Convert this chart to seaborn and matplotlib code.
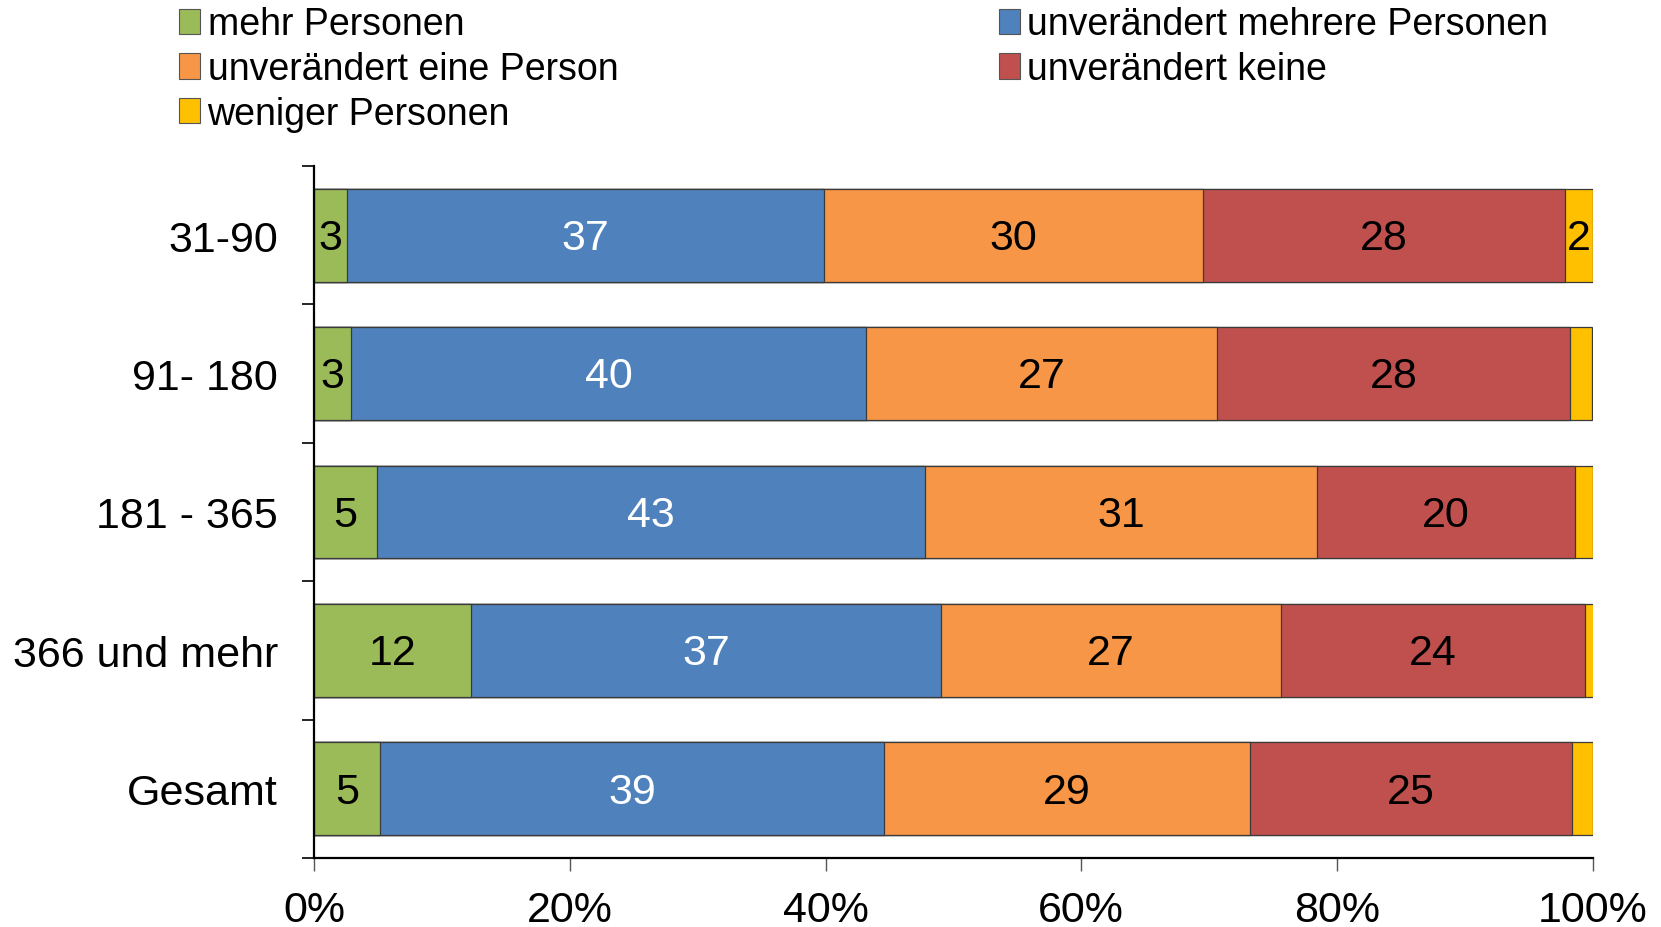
import numpy as np
import pandas as pd
import matplotlib
matplotlib.use("Agg")
import matplotlib.pyplot as plt
import seaborn as sns
from matplotlib.patches import Patch

# Duration groups (days) and share of each household change category (%)
groups = ["31-90", "91- 180", "181 - 365", "366 und mehr", "Gesamt"]
series_names = ["mehr Personen", "unverändert mehrere Personen",
                "unverändert eine Person", "unverändert keine", "weniger Personen"]
mehr_personen = [2.6, 2.9, 4.9, 12.3, 5.2]
mehrere_personen = [37.3, 40.3, 42.9, 36.7, 39.4]
eine_person = [29.6, 27.4, 30.6, 26.6, 28.6]
keine = [28.3, 27.6, 20.2, 23.8, 25.2]
weniger_personen = [2.2, 1.7, 1.4, 0.7, 1.6]
x_ticks = [0, 20, 40, 60, 80, 100]
x_tick_labels = ["0%", "20%", "40%", "60%", "80%", "100%"]

colors = ["#9BBB59", "#4F81BD", "#F79646", "#C0504D", "#FFC000"]
label_colors = ["black", "white", "black", "black", "black"]

sns.set_theme(style="white")
plt.rcParams["font.family"] = ["Liberation Sans", "DejaVu Sans"]
plt.rcParams["text.color"] = "black"
plt.rcParams["xtick.color"] = "black"
plt.rcParams["ytick.color"] = "black"
plt.rcParams["xtick.labelcolor"] = "black"
plt.rcParams["ytick.labelcolor"] = "black"

values = np.array([mehr_personen, mehrere_personen, eine_person, keine, weniger_personen])
cum = np.cumsum(values, axis=0)

fig = plt.figure(figsize=(16.61, 9.28), dpi=100)
ax = fig.add_axes([0.189, 0.0744, 0.770, 0.7456])

# Stack by drawing cumulative totals from the outermost segment inwards
for k in range(len(series_names) - 1, -1, -1):
    df = pd.DataFrame({"group": groups, "value": cum[k]})
    sns.barplot(data=df, x="value", y="group", orient="h", color=colors[k],
                saturation=1, width=0.67, edgecolor="#3a3a3a", linewidth=0.9,
                ax=ax)

# Segment value labels
for k in range(len(series_names)):
    for i in range(len(groups)):
        v = values[k, i]
        if v >= 2:
            ax.text(cum[k, i] - v / 2, i + 0.02, f"{v:.0f}", ha="center",
                    va="center", fontsize=31, color=label_colors[k])

ax.set_xlim(0, 100)
ax.set_ylim(len(groups) - 0.5, -0.5)
ax.set_xticks(x_ticks)
ax.set_xticklabels(x_tick_labels, fontsize=31)
ax.set_yticks(np.arange(len(groups) + 1) - 0.5)
ax.set_yticklabels([])
ax.set_yticks(np.arange(len(groups)), minor=True)
ax.set_yticklabels(groups, minor=True, fontsize=31)
ax.tick_params(axis="y", which="major", direction="out", length=9, width=1.2,
               color="black", left=True)
ax.tick_params(axis="y", which="minor", length=0, pad=26)
ax.tick_params(axis="x", direction="out", length=9, width=1.0, color="#555555",
               bottom=True, pad=14)
ax.set_xlabel("")
ax.set_ylabel("")
for side in ["top", "right"]:
    ax.spines[side].set_visible(False)
for side in ["left", "bottom"]:
    ax.spines[side].set_color("black")
    ax.spines[side].set_linewidth(1.6)

# Legend in two independent columns
handles = [Patch(facecolor=c, edgecolor="#555555", linewidth=0.8) for c in colors]
leg_kw = dict(frameon=False, fontsize=27, handlelength=0.56, handleheight=0.66,
              handletextpad=0.19, labelspacing=0.23, borderaxespad=0, borderpad=0)
fig.legend([handles[0], handles[2], handles[4]],
           [series_names[0], series_names[2], series_names[4]],
           loc="upper left", bbox_to_anchor=(0.108, 0.992), **leg_kw)
fig.legend([handles[1], handles[3]],
           [series_names[1], series_names[3]],
           loc="upper left", bbox_to_anchor=(0.6013, 0.992), **leg_kw)

fig.savefig("out.png", dpi=100, facecolor="white")
